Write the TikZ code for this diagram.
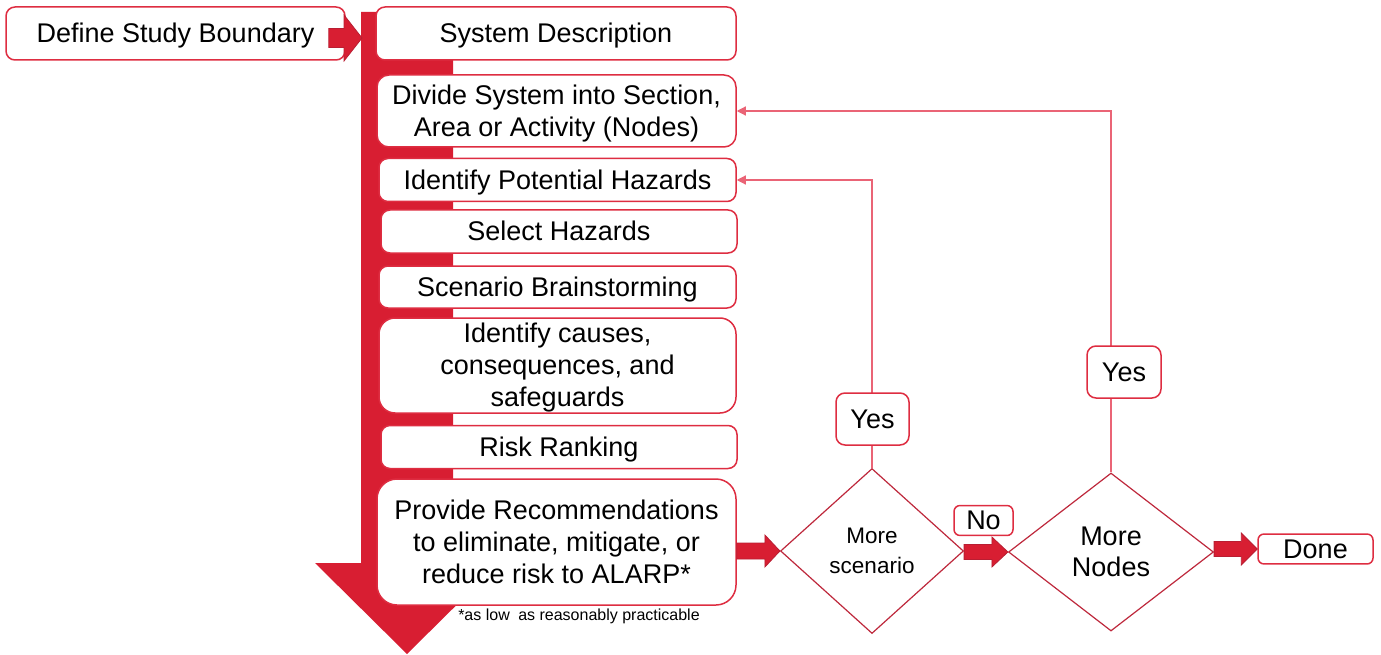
\documentclass[tikz,border=0pt]{standalone}
\usepackage{fontspec}
\setmainfont{Liberation Sans}
\usetikzlibrary{shapes.geometric,arrows.meta,calc}
\definecolor{crim}{RGB}{216,30,50}
\definecolor{crimd}{RGB}{185,30,50}
\definecolor{bord}{RGB}{222,45,65}
\definecolor{dmd}{RGB}{190,40,60}
\definecolor{connc}{RGB}{234,100,118}
\newcommand\fs[2]{\fontsize{#1}{#2}\selectfont}
\newcommand\st{\rule[-0.207em]{0pt}{1.11em}}
\newcommand\blockarrow[5]{%
  \path[blockarr] let \p1=(#1), \p2=(#2) in
    (\x1,\y2+#3) -- (\x2-#5,\y2+#3) -- (\x2-#5,\y2+#4) -- (\x2,\y2)
    -- (\x2-#5,\y2-#4) -- (\x2-#5,\y2-#3) -- (\x1,\y2-#3) -- cycle;}
\begin{document}
\begin{tikzpicture}[x=1pt,y=-1pt,
  box/.style={draw=bord, line width=1.5pt, fill=white, rounded corners=9pt,
    align=center, inner sep=0pt, font=\fs{27}{32}},
  dia/.style={draw=dmd, line width=1.2pt, fill=white, diamond, inner sep=0pt,
    align=center},
  blockarr/.style={fill=crim, draw=crimd, line width=0.8pt},
  conn/.style={draw=connc, line width=1.2pt},
  tip/.style={-{Triangle[length=9pt,width=9pt]}}]
\useasboundingbox (0,0) rectangle (1381,655);
% big downward arrow
\fill[crim] (361,12) -- (453,12) -- (453,563) -- (499,563) -- (407,654)
  -- (315,563) -- (361,563) -- cycle;
% boxes
\node[box, minimum width=339pt, minimum height=53pt] (defb) at (175.5,33.5) {\st Define Study Boundary};
\node[box, minimum width=360pt, minimum height=53pt] (sysd) at (556,33.5) {\st System Description};
\node[box, minimum width=359pt, minimum height=72pt, rounded corners=12pt] (divide) at (556.5,111)
  {\st Divide System into Section,\\\st Area or Activity (Nodes)};
\node[box, minimum width=357pt, minimum height=43pt] (ident) at (557.5,180) {\st Identify Potential Hazards};
\node[box, minimum width=356pt, minimum height=43pt] (select) at (559,231.5) {\st Select Hazards};
\node[box, minimum width=357pt, minimum height=42pt] (scen) at (557.5,287) {\st Scenario Brainstorming};
\node[box, minimum width=357pt, minimum height=95pt, rounded corners=16pt] (causes) at (557.5,365.5)
  {\st Identify causes,\\\st consequences, and\\\st safeguards};
\node[box, minimum width=356pt, minimum height=43pt] (risk) at (559,447) {\st Risk Ranking};
\node[box, minimum width=359pt, minimum height=126pt, rounded corners=20pt] (prov) at (556.5,542)
  {\st Provide Recommendations\\\st to eliminate, mitigate, or\\\st reduce risk to ALARP*};
\node[font=\fs{16}{19}, inner sep=0pt] (foot) at (579,615) {\st*as low\hspace{4pt} as reasonably practicable};
% diamonds
\node[dia, minimum width=183pt, minimum height=165pt, font=\fs{22.5}{30}] (d1) at (872,551) {\st More\\\st scenario};
\node[dia, minimum width=205pt, minimum height=158pt, font=\fs{27}{31}] (d2) at (1111,552) {\st More\\\st Nodes};
\node[box, minimum width=115pt, minimum height=28pt, rounded corners=6pt] (done) at (1315.5,549) {\st Done};
% feedback connectors
\draw[conn, tip] (d1.north) |- (ident.east);
\draw[conn, tip] (d2.north) |- (divide.east);
\node[box, minimum width=73pt, minimum height=52pt] (yes1) at (872.5,419) {\st Yes};
\node[box, minimum width=74pt, minimum height=52pt] (yes2) at (1124,372) {\st Yes};
\node[box, minimum width=59pt, minimum height=29pt, rounded corners=6pt] (no) at (983.5,520.5) {\st No};
% block arrows
\coordinate (stemin) at (362,38);
\blockarrow{[xshift=-17pt]defb.east}{stemin}{9.5pt}{23pt}{18pt}
\blockarrow{prov.east}{d1.west}{8pt}{16pt}{15pt}
\blockarrow{d1.east}{d2.west}{7.5pt}{15pt}{16pt}
\blockarrow{d2.east}{done.west}{7.5pt}{16pt}{16pt}
\end{tikzpicture}
\end{document}
